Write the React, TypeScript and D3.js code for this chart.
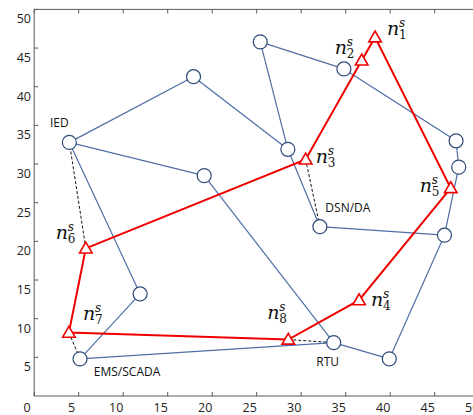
import React from "react";
import * as d3 from "d3";

const width = 473;
const height = 415;
const margin = { top: 9.4, left: 34.2, bottom: 19, right: -6 };

// network nodes (blue circles)
const nodeNames = ["IED", "A", "C", "D", "EMS", "RTU", "E", "F", "G", "H", "I", "J", "B", "DSN"];
const nodeX = [3.95, 17.9, 19.1, 11.9, 5.15, 33.65, 39.9, 46.1, 47.7, 47.4, 34.8, 25.4, 28.5, 32.1];
const nodeY = [32.8, 41.3, 28.5, 13.2, 4.8, 6.9, 4.8, 20.8, 29.6, 33.0, 42.3, 45.8, 31.9, 21.9];

// links between nodes
const links = [
  ["IED", "A"], ["A", "B"], ["IED", "C"], ["C", "RTU"], ["IED", "D"], ["D", "EMS"],
  ["EMS", "RTU"], ["RTU", "E"], ["E", "F"], ["F", "G"], ["G", "H"], ["H", "I"],
  ["I", "J"], ["J", "B"], ["B", "DSN"], ["DSN", "F"],
];

// sink route (red triangles), in visiting order
const sinkIds = [6, 3, 2, 1, 5, 4, 8, 7];
const sinkX = [5.8, 30.5, 36.8, 38.3, 46.8, 36.5, 28.55, 3.9];
const sinkY = [19.1, 30.6, 43.4, 46.4, 26.9, 12.4, 7.3, 8.2];

// dashed links sink -> node
const dashed = [[6, "IED"], [7, "EMS"], [3, "DSN"], [8, "RTU"]];

// label offsets in px from the sink point
const sinkLabelDx = [-30, 10, -27, 12, -31, 12, -21, 14];
const sinkLabelDy = [-9, 4, -6, -2, 4, 6, -21, -13];

const nodeLabels = [
  { node: "IED", text: "IED", dx: -10, dy: -19 },
  { node: "DSN", text: "DSN/DA", dx: 28, dy: -19 },
  { node: "EMS", text: "EMS/SCADA", dx: 47, dy: 13 },
  { node: "RTU", text: "RTU", dx: -6, dy: 19 },
];

const xTicks = [0, 5, 10, 15, 20, 25, 30, 35, 40, 45, 50];
const yTicks = [5, 10, 15, 20, 25, 30, 35, 40, 45, 50];

const App = () => {
  const x = d3.scaleLinear().domain([0, 50]).range([margin.left, 479.2]);
  const y = d3.scaleLinear().domain([0, 50]).range([396, margin.top]);

  const pos = (name: string) => {
    const i = nodeNames.indexOf(name);
    return [x(nodeX[i]), y(nodeY[i])];
  };
  const sinkPos = (id: number) => {
    const i = sinkIds.indexOf(id);
    return [x(sinkX[i]), y(sinkY[i])];
  };

  const route = d3.line().curve(d3.curveLinearClosed)(
    sinkX.map((v, i) => [x(v), y(sinkY[i])] as [number, number])
  );

  const tri = d3.symbol().type(d3.symbolTriangle).size(68)();
  const axisColor = "#5a5a5a";
  const blue = "#4f6ea6";
  const tickFont = "'Open Sans', sans-serif";

  return (
    <svg width={width} height={height} style={{ position: "absolute", left: 0, top: 0, background: "#fff" }}>
      {/* frame */}
      <line x1={x(0)} x2={x(0)} y1={y(50)} y2={y(0)} stroke={axisColor} />
      <line x1={x(0)} x2={x(50)} y1={y(0)} y2={y(0)} stroke={axisColor} />
      <line x1={x(0)} x2={x(50)} y1={y(50)} y2={y(50)} stroke={axisColor} />
      {xTicks.map((t) => (
        <g key={"x" + t}>
          <line x1={x(t)} x2={x(t)} y1={y(0)} y2={y(0) - 4} stroke={axisColor} />
          <line x1={x(t)} x2={x(t)} y1={y(50)} y2={y(50) + 4} stroke={axisColor} />
          <text x={x(t) - 7} y={411.5} textAnchor="middle" fontFamily={tickFont} fontSize={12.5} fill="#222">
            {t}
          </text>
        </g>
      ))}
      {yTicks.map((t) => (
        <g key={"y" + t}>
          <line x1={x(0)} x2={x(0) + 4} y1={y(t)} y2={y(t)} stroke={axisColor} />
          <text x={31} y={y(t) + 14} textAnchor="end" fontFamily={tickFont} fontSize={12.5} fill="#222">
            {t}
          </text>
        </g>
      ))}

      {/* network links */}
      {links.map(([a, b], i) => {
        const [x1, y1] = pos(a);
        const [x2, y2] = pos(b);
        return <line key={"l" + i} x1={x1} y1={y1} x2={x2} y2={y2} stroke={blue} strokeWidth={1.2} />;
      })}

      {/* dashed sink links */}
      {dashed.map(([s, n], i) => {
        const [x1, y1] = sinkPos(s as number);
        const [x2, y2] = pos(n as string);
        return (
          <line key={"d" + i} x1={x1} y1={y1} x2={x2} y2={y2} stroke="#111" strokeWidth={1} strokeDasharray="3,2" />
        );
      })}

      {/* red route */}
      <path d={route || ""} fill="none" stroke="#ee0000" strokeWidth={2} />

      {/* nodes */}
      {nodeNames.map((n, i) => (
        <circle key={n} cx={x(nodeX[i])} cy={y(nodeY[i])} r={7} fill="#fff" stroke="#2f4a78" strokeWidth={1.2} />
      ))}

      {/* sinks */}
      {sinkX.map((v, i) => (
        <path
          key={"s" + i}
          d={tri || ""}
          transform={`translate(${x(v)},${y(sinkY[i]) + 1})`}
          fill="#fff"
          stroke="#ee0000"
          strokeWidth={1.6}
        />
      ))}

      {/* sink labels */}
      {sinkIds.map((id, i) => {
        const lx = x(sinkX[i]) + sinkLabelDx[i];
        const ly = y(sinkY[i]) + sinkLabelDy[i];
        return (
          <g key={"n" + id} fontFamily="'DejaVu Serif', serif" fill="#111">
            <text x={lx} y={ly} fontSize={19} fontStyle="italic">n</text>
            <text x={lx + 12} y={ly - 8} fontSize={12} fontStyle="italic">s</text>
            <text x={lx + 12} y={ly + 4} fontSize={12}>{id}</text>
          </g>
        );
      })}

      {/* node labels */}
      {nodeLabels.map((l) => {
        const [lx, ly] = pos(l.node);
        return (
          <text key={l.text} x={lx + l.dx} y={ly + l.dy + 4} textAnchor="middle" fontFamily={tickFont} fontSize={12} fill="#111">
            {l.text}
          </text>
        );
      })}
    </svg>
  );
};

export default App;
